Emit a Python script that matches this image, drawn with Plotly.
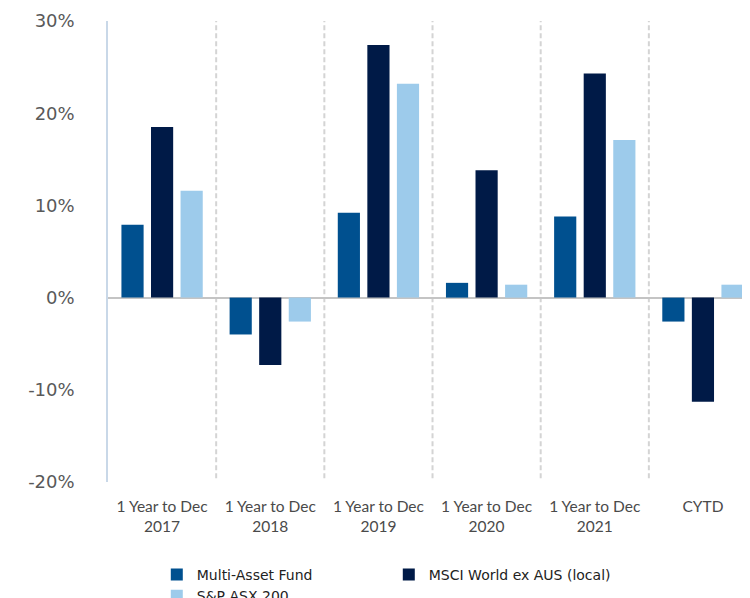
import plotly.graph_objects as go

categories = ["1 Year to Dec<br>2017", "1 Year to Dec<br>2018", "1 Year to Dec<br>2019",
              "1 Year to Dec<br>2020", "1 Year to Dec<br>2021", "CYTD"]
multi_asset = [7.9, -4.0, 9.2, 1.6, 8.8, -2.6]
msci_world = [18.5, -7.3, 27.4, 13.8, 24.3, -11.3]
asx200 = [11.6, -2.6, 23.2, 1.4, 17.1, 1.4]
y_ticks = [-20, -10, 0, 10, 20, 30]
y_labels = ["-20%", "-10%", "0%", "10%", "20%", "30%"]

series = [
    ("Multi-Asset Fund", multi_asset, "#00508f"),
    ("MSCI World ex AUS (local)", msci_world, "#001a47"),
    ("S&P ASX 200", asx200, "#9dcbeb"),
]

x_idx = list(range(len(categories)))
fig = go.Figure()
for name, vals, color in series:
    fig.add_trace(go.Bar(x=x_idx, y=vals, name=name, marker_color=color,
                         marker_line_width=0))

# dashed separators between categories
for i in range(len(categories) - 1):
    fig.add_shape(type="line", xref="x", yref="y", x0=i + 0.5, x1=i + 0.5,
                  y0=-19.6, y1=30, line=dict(color="#d4d4d4", width=2, dash="5px,3px"),
                  layer="below")

fig.update_layout(
    width=750, height=598,
    margin=dict(l=100, r=8, t=13, b=124, autoexpand=False),
    paper_bgcolor="white", plot_bgcolor="white",
    barmode="group", bargap=0.18, bargroupgap=0.25,
    showlegend=True,
    legend=dict(orientation="h", x=0.076, xanchor="left", y=-0.167, yanchor="top",
                font=dict(family="DejaVu Sans", size=14, color="#222222"),
                entrywidth=187, entrywidthmode="pixels",
                traceorder="normal", itemwidth=30, tracegroupgap=0),
    xaxis=dict(tickmode="array", tickvals=x_idx, ticktext=categories,
               range=[-0.5, 5.435], showgrid=False, zeroline=False, showline=False,
               ticks="outside", ticklen=10, tickcolor="rgba(0,0,0,0)",
               tickfont=dict(family="Lato", size=15.5, color="#4a4a4a")),
    yaxis=dict(range=[-20, 30], tickmode="array", tickvals=y_ticks, ticktext=y_labels,
               showgrid=False, zeroline=True, zerolinecolor="#c4c4c4", zerolinewidth=2,
               showline=True, linecolor="#c9d8e8", linewidth=1.5,
               ticks="outside", ticklen=28, tickcolor="rgba(0,0,0,0)",
               tickfont=dict(family="DejaVu Sans", size=18, color="#595959")),
)

fig.write_html("out.html")
